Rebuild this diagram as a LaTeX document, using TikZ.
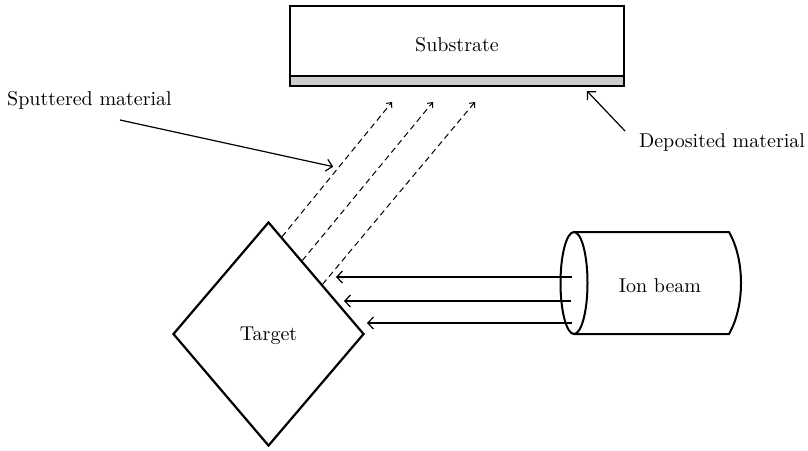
\documentclass[tikz,border=0pt]{standalone}
\usetikzlibrary{arrows.meta,shapes.geometric,calc}
\begin{document}
\begin{tikzpicture}[x=0.5pt,y=-0.5pt,
  lbl/.style={font=\fontsize{10}{12}\selectfont, inner sep=0pt},
  outline/.style={draw, line width=1.1pt},
  beam/.style={line width=0.6pt, -{Straight Barb[length=2.8pt,width=6pt]}},
  sput/.style={line width=0.5pt, dash pattern=on 3pt off 2pt, -{Straight Barb[length=2pt,width=3.6pt]}},
  callout/.style={line width=0.6pt, -{Straight Barb[length=3pt,width=6pt]}}]
\useasboundingbox (0,0) rectangle (808,450);
% substrate and deposited film
\node[outline, minimum width=167pt, minimum height=35pt, inner sep=0pt] (sub) at (457,41) {};
\node[lbl] (subtxt) at (457,45) {Substrate};
\node[outline, fill=black!20, minimum width=167pt, minimum height=5pt, inner sep=0pt] (film) at (457,81) {};
% target
\node[diamond, outline, minimum width=95.5pt, minimum height=112pt, inner sep=0pt] (tgt) at (268.5,334) {};
\node[lbl] (tgttxt) at (268.5,336) {Target};
% ion beam cylinder
\coordinate (ctop) at (574,232);
\coordinate (cbot) at (574,334);
\coordinate (rtop) at (729,232);
\coordinate (rbot) at (729,334);
\draw[line width=1pt] (574,283) ellipse [x radius=13.5, y radius=51];
\draw[line width=1pt] (ctop) -- (rtop) .. controls (745,260) and (745,306) .. (rbot) -- (cbot);
\node[lbl] (ion) at (660,286) {Ion beam};
% ion beam arrows
\coordinate (b1s) at (572,277); \coordinate (b1e) at (336,277);
\coordinate (b2s) at (571,301); \coordinate (b2e) at (344,301);
\coordinate (b3s) at (572,323); \coordinate (b3e) at (367,323);
\draw[beam] (b1s) -- (b1e);
\draw[beam] (b2s) -- (b2e);
\draw[beam] (b3s) -- (b3e);
% sputtered material
\coordinate (d1s) at ($(tgt.north)!0.14!(tgt.east)$);
\coordinate (d2s) at ($(tgt.north)!0.35!(tgt.east)$);
\coordinate (d3s) at ($(tgt.north)!0.56!(tgt.east)$);
\coordinate (d1e) at (392,102);
\coordinate (d2e) at (433,102);
\coordinate (d3e) at (475,102);
\draw[sput] (d1s) -- (d1e);
\draw[sput] (d2s) -- (d2e);
\draw[sput] (d3s) -- (d3e);
% labels with callouts
\node[lbl] (sp) at (89.5,100) {Sputtered material};
\coordinate (spt) at (120,120);
\coordinate (sph) at ($(d1s)!0.52!(d1e)+(-6,0)$);
\draw[callout] (spt) -- (sph);
\node[lbl] (dep) at (722,142) {Deposited material};
\coordinate (dpt) at (625,131);
\coordinate (dph) at (587,91);
\draw[callout] (dpt) -- (dph);
\end{tikzpicture}
\end{document}
